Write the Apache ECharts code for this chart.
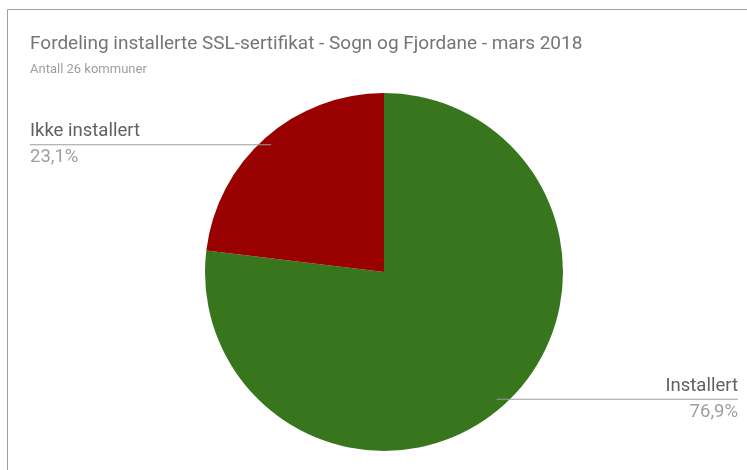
<!DOCTYPE html>
<html lang="no">
<head>
    <meta charset="utf-8">
    <title>Fordeling installerte SSL-sertifikat</title>
    <script src="https://cdn.jsdelivr.net/npm/echarts@6/dist/echarts.min.js"></script>
    <style>
        html, body { margin: 0; padding: 0; background: #fff; }
        #chart { width: 747px; height: 470px; }
    </style>
</head>
<body>
    <div id="chart"></div>
    <script>
        // data
        var categories = ['Installert', 'Ikke installert'];
        var counts = [20, 6];
        var colors = ['#38761d', '#990000'];
        var edgeGaps = [9, 30];   // avstand fra kant for etikettene

        var total = counts.reduce(function (a, b) { return a + b; }, 0);

        var myChart = echarts.init(document.getElementById('chart'));

        // selve kaka, uten etiketter
        var pieData = categories.map(function (name, i) {
            return { name: name, value: counts[i], itemStyle: { color: colors[i] } };
        });
        // usynleg lag som berre teiknar etikettane (litt mindre radius)
        var labelData = categories.map(function (name, i) {
            return { name: name, value: counts[i], label: { edgeDistance: edgeGaps[i] } };
        });

        var option = {
            backgroundColor: '#fff',
            animation: false,
            title: {
                text: 'Fordeling installerte SSL-sertifikat - Sogn og Fjordane - mars 2018',
                subtext: 'Antall 26 kommuner',
                left: 25,
                top: 30,
                itemGap: 9,
                textStyle: { fontFamily: 'Roboto', fontSize: 19, fontWeight: 'normal', color: '#757575' },
                subtextStyle: { fontFamily: 'Roboto', fontSize: 13, color: '#9e9e9e' }
            },
            graphic: [{
                type: 'rect',
                shape: { x: 7.5, y: 9.5, width: 800, height: 600 },
                style: { fill: 'none', stroke: '#9e9e9e', lineWidth: 1 },
                silent: true
            }],
            series: [{
                type: 'pie',
                z: 2,
                center: [384, 272],
                radius: 179,
                startAngle: 90,
                clockwise: true,
                label: { show: false },
                labelLine: { show: false },
                silent: true,
                data: pieData
            }, {
                type: 'pie',
                z: 5,
                center: [384, 272],
                radius: 170,
                startAngle: 90,
                clockwise: true,
                silent: true,
                avoidLabelOverlap: false,
                itemStyle: { color: 'rgba(0,0,0,0)' },
                label: {
                    position: 'outer',
                    alignTo: 'edge',
                    distanceToLabelLine: 0,
                    formatter: function (p) {
                        var pct = (p.value / total * 100).toFixed(1).replace('.', ',');
                        return '{name|' + p.name + '}\n{per|' + pct + '%}';
                    },
                    rich: {
                        name: { fontFamily: 'Roboto', fontSize: 18.5, color: '#616161', lineHeight: 26 },
                        per: { fontFamily: 'Roboto', fontSize: 18.5, color: '#9e9e9e', lineHeight: 26 }
                    }
                },
                labelLine: {
                    show: true,
                    length: 0,
                    length2: 0,
                    lineStyle: { color: '#9e9e9e', width: 1 }
                },
                labelLayout: function (params) {
                    var isLeft = params.labelRect.x < myChart.getWidth() / 2;
                    var points = params.labelLinePoints;
                    points[2][0] = isLeft
                        ? params.labelRect.x
                        : params.labelRect.x + params.labelRect.width;
                    return { labelLinePoints: points };
                },
                data: labelData
            }]
        };

        myChart.setOption(option);
    </script>
</body>
</html>
